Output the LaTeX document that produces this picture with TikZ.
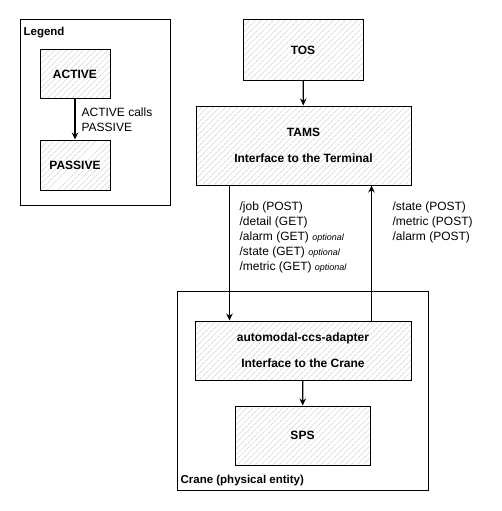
\documentclass[tikz,border=0pt]{standalone}
\usepackage{fontspec}
\setmainfont{Liberation Sans}
\usetikzlibrary{patterns.meta,arrows.meta}
\begin{document}
\begin{tikzpicture}[x=1pt, y=-1pt, line width=1.2pt, >={Stealth[length=7pt,width=6.5pt]},
    block/.style={draw, line width=1pt, pattern={Lines[angle=45,distance=4pt,line width=0.5pt]}, pattern color=black!22, font=\fontsize{12}{14}\selectfont\bfseries, align=center},
    frame/.style={draw, line width=1pt, inner sep=0pt},
    lbl/.style={font=\fontsize{12}{15}\selectfont, align=left, inner sep=0pt}]
  \useasboundingbox (0,0) rectangle (501,511);
  % legend
  \node [frame, minimum width=150pt, minimum height=185pt] (legend) at (95,112.5) {};
  \node [anchor=west, inner sep=0pt, font=\fontsize{11.5}{14}\selectfont\bfseries] (legendtxt) at (23,33) {Legend};
  \node [block, minimum width=70pt, minimum height=48pt] (active) at (75,74) {ACTIVE};
  \node [block, minimum width=70pt, minimum height=50pt] (passive) at (75,165) {PASSIVE};
  \path[->] (active) edge node [lbl, anchor=west, xshift=6pt, yshift=-1pt] {ACTIVE calls\\PASSIVE} (passive);
  % terminal side
  \node [block, minimum width=120pt, minimum height=60pt] (tos) at (303,50) {TOS};
  \node [block, minimum width=215pt, minimum height=79pt] (tams) at (303.5,145.5) {TAMS\\[12pt]Interface to the Terminal};
  % crane
  \node [frame, minimum width=251pt, minimum height=199pt] (crane) at (302.5,390.5) {};
  \node [anchor=west, inner sep=0pt, font=\fontsize{11.5}{14}\selectfont\bfseries] (cranetxt) at (180,481) {Crane (physical entity)};
  \node [block, minimum width=216pt, minimum height=59pt] (adapter) at (303,350.5) {automodal-ccs-adapter\\[12pt]Interface to the Crane};
  \node [block, minimum width=135pt, minimum height=59pt] (sps) at (302.5,435.5) {SPS};
  \path[->] (tos) edge (tams) (adapter) edge (sps);
  \draw[->] ([xshift=34pt]tams.south west) -- ([xshift=34pt]tams.south west |- adapter.north);
  \draw[->] ([xshift=-40pt]tams.south east |- adapter.north) -- ([xshift=-40pt]tams.south east);
  \node [lbl, anchor=north west] (calls) at (239,201) {/job (POST)\\/detail (GET)\\/alarm (GET) {\fontsize{9}{10}\selectfont\itshape optional}\\/state (GET) {\fontsize{9}{10}\selectfont\itshape optional}\\/metric (GET) {\fontsize{9}{10}\selectfont\itshape optional}};
  \node [lbl, anchor=north west] (posts) at (392,201) {/state (POST)\\/metric (POST)\\/alarm (POST)};
\end{tikzpicture}
\end{document}
